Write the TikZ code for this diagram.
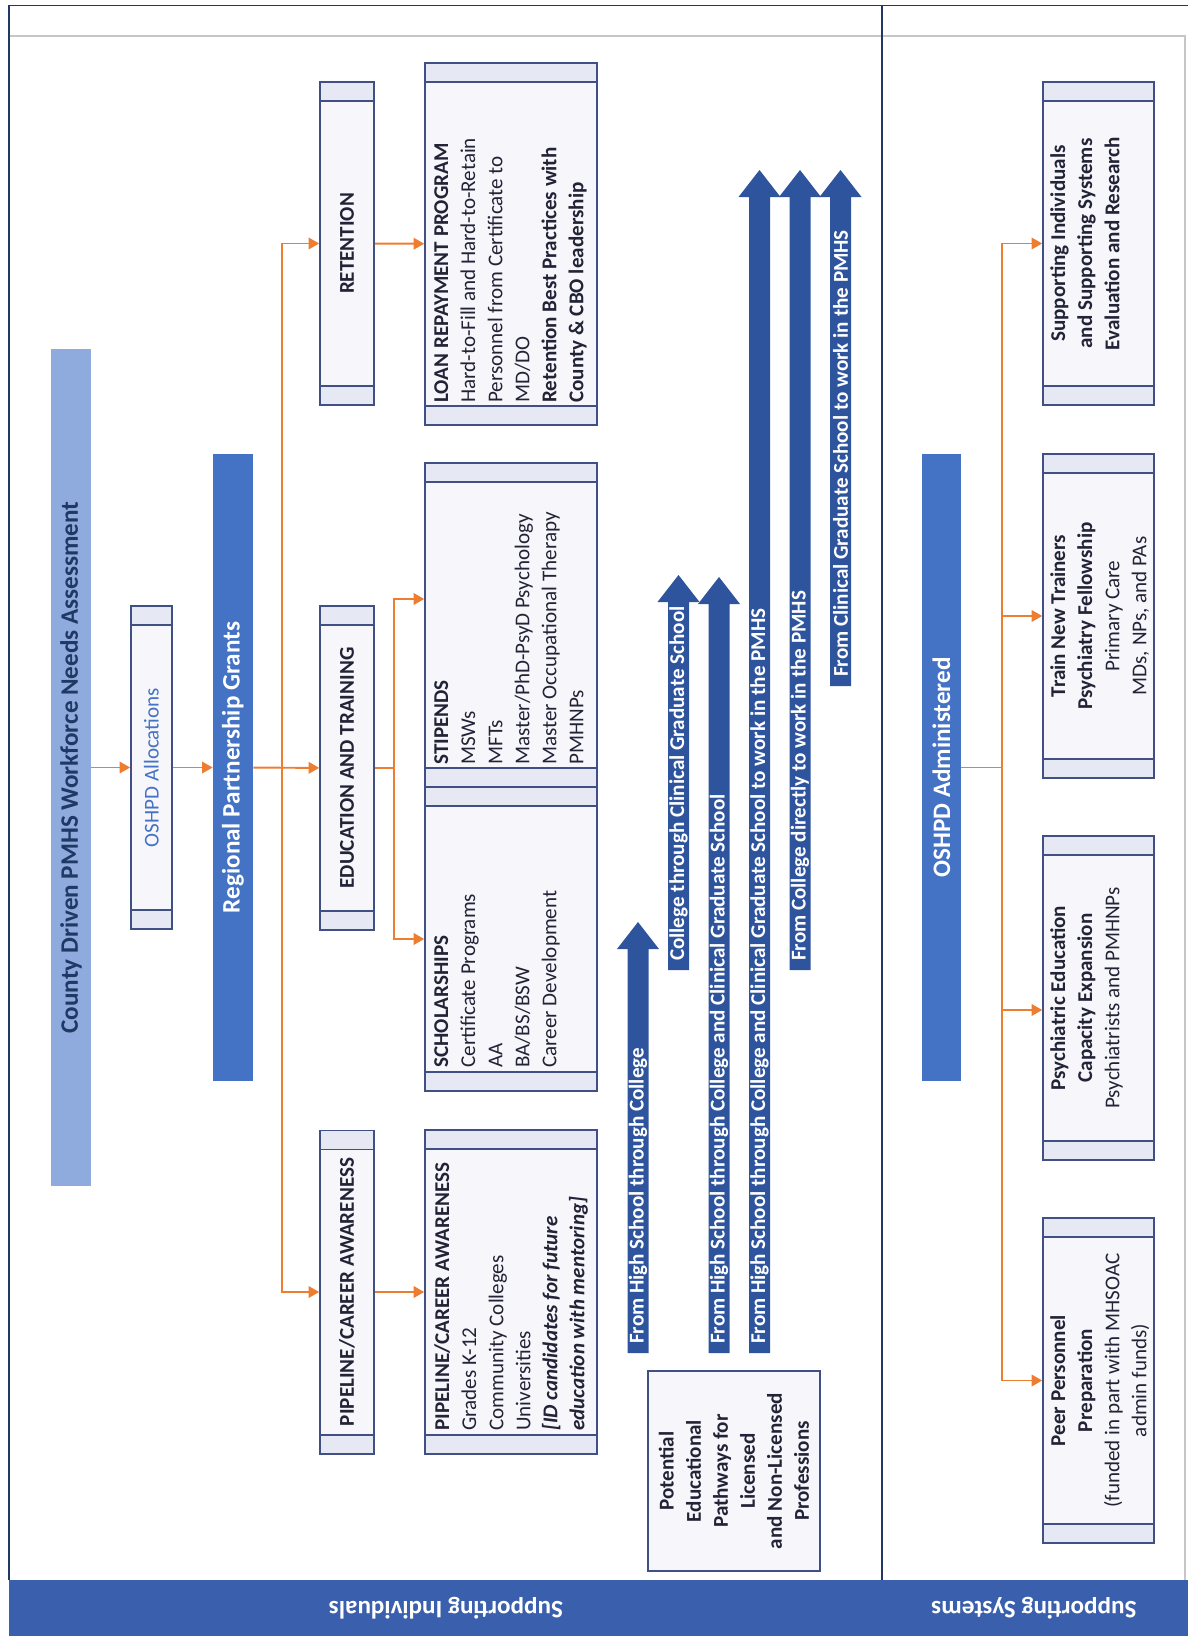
\documentclass[tikz,border=0pt]{standalone}
\usepackage{fontspec}
\setmainfont{Carlito}
\usetikzlibrary{arrows.meta, positioning, calc}
\definecolor{wfnavy}{RGB}{31,56,100}
\definecolor{wflight}{RGB}{143,170,220}
\definecolor{wfblue}{RGB}{68,114,196}
\definecolor{wfpath}{RGB}{46,84,158}
\definecolor{wfband}{RGB}{58,95,172}
\definecolor{wforange}{RGB}{237,125,49}
\definecolor{wfline}{RGB}{64,80,132}
\definecolor{wfbox}{RGB}{246,246,251}
\definecolor{wfstrip}{RGB}{230,232,243}
\definecolor{wftext}{RGB}{35,35,55}
\tikzset{
  fillbar/.style={rectangle, fill=#1, inner sep=0pt},
  plainbox/.style={rectangle, draw=wfline, fill=wfbox, line width=0.9pt, inner sep=0pt},
  procbox/.style={plainbox, path picture={
      \fill[wfstrip] (path picture bounding box.north west) rectangle ([yshift=-0.38cm]path picture bounding box.north east);
      \fill[wfstrip] (path picture bounding box.south west) rectangle ([yshift=0.38cm]path picture bounding box.south east);
      \draw[wfline, line width=0.9pt] ([yshift=-0.38cm]path picture bounding box.north west) -- ([yshift=-0.38cm]path picture bounding box.north east)
        ([yshift=0.38cm]path picture bounding box.south west) -- ([yshift=0.38cm]path picture bounding box.south east);}},
  vtext/.style={rotate=90, inner sep=0pt, text=wftext, font=\fontsize{12}{15.4}\selectfont},
  vbold/.style={vtext, font=\fontsize{12}{15.4}\selectfont\bfseries},
  bartext/.style={rotate=90, inner sep=0pt, font=\fontsize{14.3}{17}\selectfont\bfseries},
  bandtext/.style={rotate=180, inner sep=0pt, text=white, font=\fontsize{14.3}{17}\selectfont\bfseries},
  pathlabel/.style={rotate=90, anchor=west, inner xsep=5pt, inner ysep=0pt, text=white, font=\fontsize{12}{14}\selectfont\bfseries},
  arrow/.style={line width=1.1pt, ->, >={Triangle[length=6pt,width=6.5pt]}, color=wforange},
  feed/.style={line width=1.1pt, color=wforange}
}
% block arrow with its label: name, shaft x, foot y, tip y, text
\newcommand{\pathway}[5]{%
  \fill[wfpath] (#2-10.5,#3) -- (#2-10.5,#4+27) -- (#2-21,#4+27) -- (#2,#4)
    -- (#2+21,#4+27) -- (#2+10.5,#4+27) -- (#2+10.5,#3) -- cycle;
  \node (#1) [pathlabel] at (#2,#3) {#5};
}

\begin{document}
\begin{tikzpicture}[x=0.02cm, y=-0.02cm]
  \useasboundingbox (0,0) rectangle (1188,1636);

  % frame and side bands
  \fill[wfband] (9,1580) rectangle (1188,1636);
  \draw[gray!45, line width=0.6pt] (9,36) -- (1185,36) -- (1185,1580);
  \draw[wfnavy, line width=1.1pt] (1188,5.5) -- (9,5.5) -- (9,1580);
  \draw[wfnavy, line width=1.1pt] (882,5.5) -- (882,1580);
  \node (band-ind) [bandtext] at (446,1608) {Supporting Individuals};
  \node (band-sys) [bandtext] at (1034,1608) {Supporting Systems};

  % funding chain
  \node (county) [fillbar=wflight, minimum width=0.8cm, minimum height=16.76cm] at (71,767.5) {};
  \node (county-t) [bartext, text=wfnavy] at (county.center) {County Driven PMHS Workforce Needs Assessment};
  \node (alloc) [procbox, minimum width=0.82cm, minimum height=6.46cm] at (151.5,767.5) {};
  \node (alloc-t) [vtext, text=wfblue] at (alloc.center) {OSHPD Allocations};
  \node (rpg) [fillbar=wfblue, minimum width=0.8cm, minimum height=12.54cm] at (233,767.5) {};
  \node (rpg-t) [bartext, text=white] at (rpg.center) {Regional Partnership Grants};

  % program areas
  \node (ret) [procbox, minimum width=1.08cm, minimum height=6.47cm] at (347,243.5) {};
  \node (ret-t) [vbold] at (ret.center) {RETENTION};
  \node (edu) [procbox, minimum width=1.08cm, minimum height=6.47cm] at (347,768) {};
  \node (edu-t) [vbold] at (edu.center) {EDUCATION AND TRAINING};
  \node (pipe) [procbox, minimum width=1.08cm, minimum height=6.47cm] at (347,1292) {};
  \node (pipe-t) [vbold] at (pipe.center) {PIPELINE/CAREER AWARENESS};

  % program details
  \node (loan) [procbox, minimum width=3.44cm, minimum height=7.24cm] at (511,244) {};
  \node (loan-t) [vtext, anchor=north west, align=left] at (434,403) {\textbf{LOAN REPAYMENT PROGRAM}\\Hard-to-Fill and Hard-to-Retain\\Personnel from Certificate to\\MD/DO\\\textbf{Retention Best Practices with}\\\textbf{County \& CBO leadership}};
  \node (stip) [procbox, minimum width=3.44cm, minimum height=6.48cm] at (511,625) {};
  \node (stip-t) [vtext, anchor=north west, align=left] at (434,765) {\textbf{STIPENDS}\\MSWs\\MFTs\\Master/PhD-PsyD Psychology\\Master Occupational Therapy\\PMHNPs};
  \node (schol) [procbox, minimum width=3.44cm, minimum height=6.08cm] at (511,939) {};
  \node (schol-t) [vtext, anchor=north west, align=left] at (434,1068) {\textbf{SCHOLARSHIPS}\\Certificate Programs\\AA\\BA/BS/BSW\\Career Development};
  \node (pipedet) [procbox, minimum width=3.44cm, minimum height=6.48cm] at (511,1292) {};
  \node (pipedet-t) [vtext, anchor=north west, align=left] at (434,1431) {\textbf{PIPELINE/CAREER AWARENESS}\\Grades K-12\\Community Colleges\\Universities\\\textbf{\textit{[ID candidates for future}}\\\textbf{\textit{education with mentoring]}}};

  \coordinate (split) at (282,767.5);
  \coordinate (esplit) at (394,768);
  \draw[arrow] (county) -- (alloc);
  \draw[arrow] (alloc) -- (rpg);
  \draw[arrow] (rpg) -- (edu);
  \draw[arrow] (split) |- (ret);
  \draw[arrow] (split) |- (pipe);
  \draw[arrow] (ret) -- (loan);
  \draw[feed] (edu) -- (esplit);
  \draw[arrow] (esplit) |- ([yshift=0.52cm]stip.west);
  \draw[arrow] (esplit) |- (schol);
  \draw[arrow] (pipe) -- (pipedet);

  % educational pathways
  \node (potential) [plainbox, minimum width=3.44cm, minimum height=4cm] at (734,1471) {};
  \node (potential-t) [vbold, align=center] at (potential.center) {Potential\\Educational\\Pathways for\\Licensed\\and Non-Licensed\\Professions};
  \pathway{hs-col}{638}{1353}{922}{From High School through College}
  \pathway{col-grad}{678.5}{970}{575}{College through Clinical Graduate School}
  \pathway{hs-grad}{719}{1353}{577}{From High School through College and Clinical Graduate School}
  \pathway{hs-pmhs}{759.5}{1353}{170}{From High School through College and Clinical Graduate School to work in the PMHS}
  \pathway{col-pmhs}{800}{970}{170}{From College directly to work in the PMHS}
  \pathway{grad-pmhs}{840.5}{686}{170}{From Clinical Graduate School to work in the PMHS}

  % state administered programs
  \node (adm) [fillbar=wfblue, minimum width=0.78cm, minimum height=12.54cm] at (941.5,767.5) {};
  \node (adm-t) [bartext, text=white] at (adm.center) {OSHPD Administered};
  \node (evalbox) [procbox, minimum width=2.22cm, minimum height=6.46cm] at (1098.5,243.5) {};
  \node (evalbox-t) [vbold, anchor=north, align=center] at (1050,243.5) {Supporting Individuals\\and Supporting Systems\\Evaluation and Research};
  \node (trainbox) [procbox, minimum width=2.22cm, minimum height=6.47cm] at (1098.5,616) {};
  \node (trainbox-t) [vtext, anchor=north, align=center] at (1050,616) {\textbf{Train New Trainers}\\\textbf{Psychiatry Fellowship}\\Primary Care\\MDs, NPs, and PAs};
  \node (psybox) [procbox, minimum width=2.22cm, minimum height=6.48cm] at (1098.5,998) {};
  \node (psybox-t) [vtext, anchor=north, align=center] at (1050,998) {\textbf{Psychiatric Education}\\\textbf{Capacity Expansion}\\Psychiatrists and PMHNPs};
  \node (peerbox) [procbox, minimum width=2.22cm, minimum height=6.5cm] at (1098.5,1380.5) {};
  \node (peerbox-t) [vtext, anchor=north, align=center] at (1050,1380.5) {\textbf{Peer Personnel}\\\textbf{Preparation}\\(funded in part with MHSOAC\\admin funds)};

  \coordinate (asplit) at (1002,767.5);
  \draw[feed] (adm) -- (asplit);
  \draw[arrow] (asplit) |- (evalbox);
  \draw[arrow] (asplit) |- (trainbox);
  \draw[arrow] (asplit) |- ([yshift=-0.24cm]psybox.west);
  \draw[arrow] (asplit) |- (peerbox);
\end{tikzpicture}
\end{document}
